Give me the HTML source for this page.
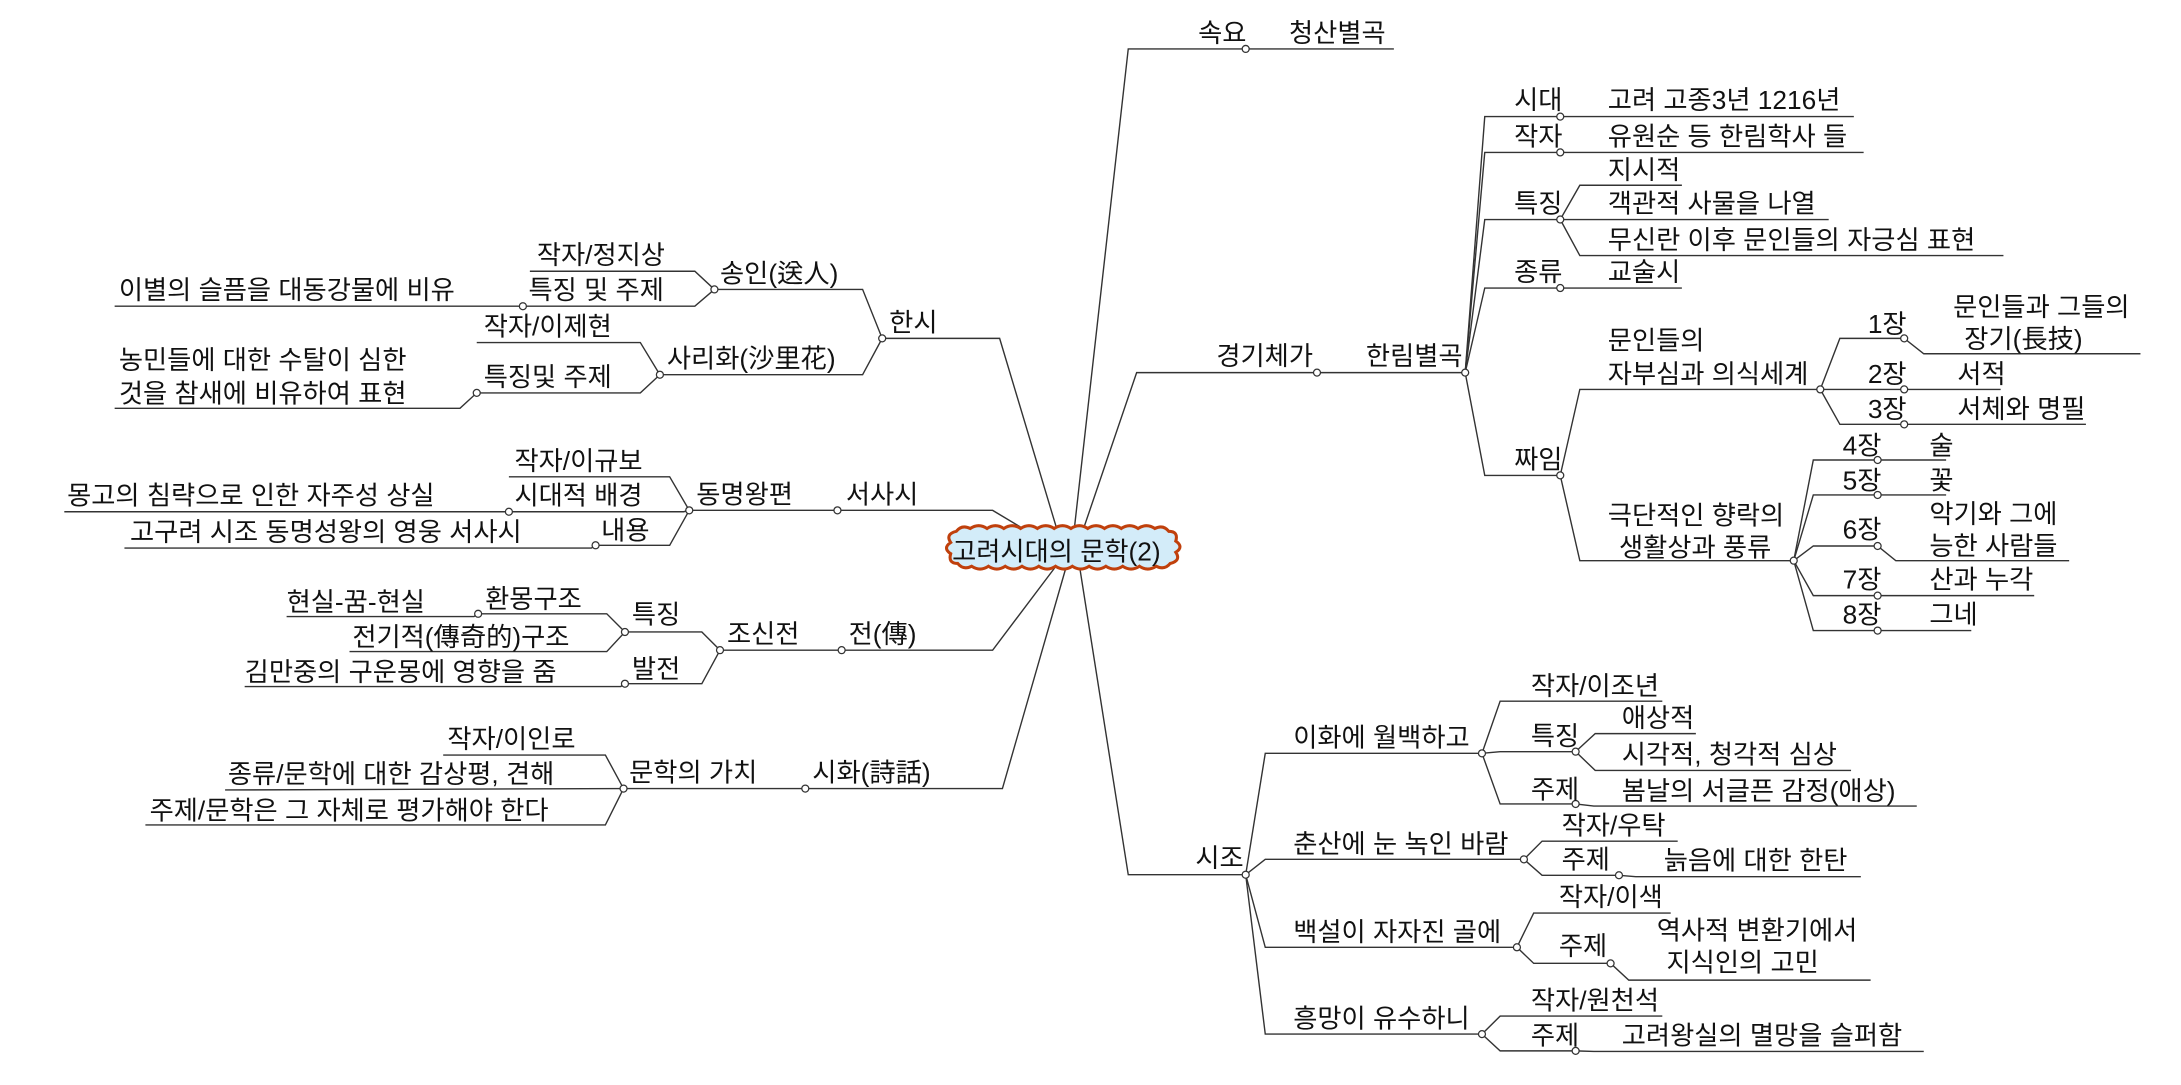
<!DOCTYPE html>
<html><head><meta charset="utf-8"><style>
html,body{margin:0;padding:0;background:#fff;}
svg{display:block;}
text{font-family:"Liberation Sans","Noto Sans CJK KR",sans-serif;font-size:18.8px;fill:#111;}
.l{stroke:#333;stroke-width:1;fill:none;}
.c{fill:#fff;stroke:#333;stroke-width:0.9;}
</style></head><body>
<svg width="2181" height="1085" viewBox="0 0 1560 776" preserveAspectRatio="none" xmlns="http://www.w3.org/2000/svg">
<g class="l">
<polyline points="768,382 807,35 891,35 997,35"/>
<polyline points="773,384 813,266.5 942,266.5 1048,266.5"/>
<polyline points="772,404 807,625.6 891,625.6"/>
<polyline points="757,382 715,242 631,242"/>
<polyline points="735,380 710,365 599,365 493,365"/>
<polyline points="756,404 710,465 602,465"/>
<polyline points="763,404 717,564 576,564"/>

<polyline points="1048,266.5 1062,83.4 1116,83.4 1326,83.4"/>
<polyline points="1048,266.5 1062,109 1116,109 1333,109"/>
<polyline points="1048,266.5 1062,157 1116,157 1308,157"/>
<polyline points="1116,157 1130,132.5 1203,132.5"/>
<polyline points="1116,157 1130,182.8 1433,182.8"/>
<polyline points="1048,266.5 1062,206 1116,206 1203,206"/>
<polyline points="1048,266.5 1062,340 1116,340"/>
<polyline points="1116,340 1130,278.5 1302,278.5"/>
<polyline points="1116,340 1130,401 1283,401"/>
<polyline points="1302,278.5 1316,242 1362,242 1376,253 1531,253"/>
<polyline points="1302,278.5 1316,278.5 1362,278.5 1431,278.5"/>
<polyline points="1302,278.5 1316,303.5 1362,303.5 1492,303.5"/>
<polyline points="1283,401 1297,329 1343,329 1392,329"/>
<polyline points="1283,401 1297,354 1343,354 1392,354"/>
<polyline points="1283,401 1297,390.5 1343,390.5 1356,401 1480,401"/>
<polyline points="1283,401 1297,426 1343,426 1455,426"/>
<polyline points="1283,401 1297,451 1343,451 1410,451"/>

<polyline points="891,625.6 905,538.8 1060,538.8"/>
<polyline points="1060,538.8 1073,501.5 1189,501.5"/>
<polyline points="1060,538.8 1073,537.6 1127,537.6"/>
<polyline points="1127,537.6 1141,524.7 1213,524.7"/>
<polyline points="1127,537.6 1141,551 1324,551"/>
<polyline points="1060,538.8 1073,575 1127,575 1140,576.5 1371,576.5"/>
<polyline points="891,625.6 905,614.6 1090,614.6"/>
<polyline points="1090,614.6 1103,601.6 1200,601.6"/>
<polyline points="1090,614.6 1103,626 1158,626 1170,627 1331,627"/>
<polyline points="891,625.6 905,677.5 1085,677.5"/>
<polyline points="1085,677.5 1097,653 1195,653"/>
<polyline points="1085,677.5 1097,689 1152,689 1165,701 1338,701"/>
<polyline points="891,625.6 905,739.6 1060,739.6"/>
<polyline points="1060,739.6 1073,726.7 1189,726.7"/>
<polyline points="1060,739.6 1073,751.6 1127,751.6 1140,752 1376,752"/>

<polyline points="631,242 617,207 511,207"/>
<polyline points="511,207 497,194 379,194"/>
<polyline points="511,207 497,219 374,219 82,219"/>
<polyline points="631,242 617,268 472,268"/>
<polyline points="472,268 458,245 341,245"/>
<polyline points="472,268 458,281 341,281 329,292 82,292"/>
<polyline points="493,365 479,341 364,341"/>
<polyline points="493,365 489,366 364,366 46,366"/>
<polyline points="493,365 479,390 426,390 423,392 89,392"/>
<polyline points="602,465 515,465 502,452 447,452"/>
<polyline points="447,452 434,439 342,439 339,441 205,441"/>
<polyline points="447,452 434,466 250,466"/>
<polyline points="515,465 502,489 447,489 444,491 175,491"/>
<polyline points="576,564 446,564"/>
<polyline points="446,564 433,540 317,540"/>
<polyline points="446,564 161,565"/>
<polyline points="446,564 433,590 104,590"/>
</g>

<g class="c">
<circle cx="891" cy="35" r="2.5"/><circle cx="942" cy="266.5" r="2.5"/><circle cx="1048" cy="266.5" r="2.5"/>
<circle cx="891" cy="625.6" r="2.5"/>
<circle cx="1116" cy="83.4" r="2.5"/><circle cx="1116" cy="109" r="2.5"/><circle cx="1116" cy="157" r="2.5"/>
<circle cx="1116" cy="206" r="2.5"/><circle cx="1116" cy="340" r="2.5"/><circle cx="1302" cy="278.5" r="2.5"/>
<circle cx="1283" cy="401" r="2.5"/><circle cx="1362" cy="242" r="2.5"/><circle cx="1362" cy="278.5" r="2.5"/>
<circle cx="1362" cy="303.5" r="2.5"/><circle cx="1343" cy="329" r="2.5"/><circle cx="1343" cy="354" r="2.5"/>
<circle cx="1343" cy="390.5" r="2.5"/><circle cx="1343" cy="426" r="2.5"/><circle cx="1343" cy="451" r="2.5"/>
<circle cx="1060" cy="538.8" r="2.5"/><circle cx="1127" cy="537.6" r="2.5"/><circle cx="1127" cy="575" r="2.5"/>
<circle cx="1090" cy="614.6" r="2.5"/><circle cx="1158" cy="626" r="2.5"/><circle cx="1085" cy="677.5" r="2.5"/>
<circle cx="1152" cy="689" r="2.5"/><circle cx="1060" cy="739.6" r="2.5"/><circle cx="1127" cy="751.6" r="2.5"/>
<circle cx="631" cy="242" r="2.5"/><circle cx="511" cy="207" r="2.5"/><circle cx="374" cy="219" r="2.5"/>
<circle cx="472" cy="268" r="2.5"/><circle cx="341" cy="281" r="2.5"/>
<circle cx="599" cy="365" r="2.5"/><circle cx="493" cy="365" r="2.5"/><circle cx="364" cy="366" r="2.5"/><circle cx="426" cy="390" r="2.5"/>
<circle cx="602" cy="465" r="2.5"/><circle cx="515" cy="465" r="2.5"/><circle cx="447" cy="452" r="2.5"/><circle cx="342" cy="439" r="2.5"/><circle cx="447" cy="489" r="2.5"/>
<circle cx="576" cy="564" r="2.5"/><circle cx="446" cy="564" r="2.5"/>
</g>

<path d="M680,388 q-4,-6 4,-8 q4,-5 10,-2 q6,-4 12,0 q6,-4 12,0 q6,-4 12,0 q6,-4 12,0 q6,-4 12,0 q6,-4 12,0 q6,-4 12,0 q6,-4 12,0 q6,-4 12,0 q6,-4 12,0 q6,-4 12,0 q6,-3 10,2 q7,0 5,7 q6,4 0,8 q4,6 -4,8 q-4,5 -10,2 q-6,4 -12,0 q-6,4 -12,0 q-6,4 -12,0 q-6,4 -12,0 q-6,4 -12,0 q-6,4 -12,0 q-6,4 -12,0 q-6,4 -12,0 q-6,4 -12,0 q-6,4 -12,0 q-6,4 -12,0 q-6,3 -10,-2 q-7,0 -5,-7 q-6,-4 0,-8 z" fill="#d3ecf9" stroke="#c0400c" stroke-width="2.2"/>
<text x="681" y="401">고려시대의 문학(2)</text>

<text x="857" y="30">속요</text><text x="922" y="30">청산별곡</text>
<text x="870" y="261">경기체가</text><text x="977" y="261">한림별곡</text>
<text x="1083" y="78">시대</text><text x="1150" y="78">고려 고종3년 1216년</text>
<text x="1083" y="104">작자</text><text x="1150" y="104">유원순 등 한림학사 들</text>
<text x="1083" y="152">특징</text><text x="1150" y="128">지시적</text>
<text x="1150" y="152">객관적 사물을 나열</text><text x="1150" y="178">무신란 이후 문인들의 자긍심 표현</text>
<text x="1083" y="201">종류</text><text x="1150" y="201">교술시</text>
<text x="1083" y="335">짜임</text>
<text x="1150" y="250">문인들의</text><text x="1150" y="274">자부심과 의식세계</text>
<text x="1336" y="238">1장</text><text x="1397" y="226">문인들과 그들의</text><text x="1405" y="249">장기(長技)</text>
<text x="1336" y="274">2장</text><text x="1400" y="274">서적</text>
<text x="1336" y="299">3장</text><text x="1400" y="299">서체와 명필</text>
<text x="1150" y="375">극단적인 향락의</text><text x="1158" y="398">생활상과 풍류</text>
<text x="1318" y="325">4장</text><text x="1380" y="325">술</text>
<text x="1318" y="350">5장</text><text x="1380" y="350">꽃</text>
<text x="1318" y="385">6장</text><text x="1380" y="374">악기와 그에</text><text x="1380" y="397">능한 사람들</text>
<text x="1318" y="421">7장</text><text x="1380" y="421">산과 누각</text>
<text x="1318" y="446">8장</text><text x="1380" y="446">그네</text>

<text x="855" y="620">시조</text>
<text x="925" y="534">이화에 월백하고</text><text x="1095" y="497">작자/이조년</text>
<text x="1095" y="533">특징</text><text x="1160" y="520">애상적</text><text x="1160" y="546">시각적, 청각적 심상</text>
<text x="1095" y="571">주제</text><text x="1160" y="572">봄날의 서글픈 감정(애상)</text>
<text x="925" y="610">춘산에 눈 녹인 바람</text><text x="1117" y="597">작자/우탁</text>
<text x="1117" y="621">주제</text><text x="1190" y="622">늙음에 대한 한탄</text>
<text x="925" y="673">백설이 자자진 골에</text><text x="1115" y="648">작자/이색</text>
<text x="1115" y="683">주제</text><text x="1185" y="672">역사적 변환기에서</text><text x="1192" y="695">지식인의 고민</text>
<text x="925" y="735">흥망이 유수하니</text><text x="1095" y="722">작자/원천석</text>
<text x="1095" y="747">주제</text><text x="1160" y="747">고려왕실의 멸망을 슬퍼함</text>

<text x="636" y="237">한시</text>
<text x="515" y="202">송인(送人)</text><text x="384" y="189">작자/정지상</text>
<text x="378" y="214">특징 및 주제</text><text x="85" y="214">이별의 슬픔을 대동강물에 비유</text>
<text x="477" y="263">사리화(沙里花)</text><text x="346" y="240">작자/이제현</text>
<text x="346" y="276">특징및 주제</text>
<text x="85" y="264">농민들에 대한 수탈이 심한</text><text x="85" y="288">것을 참새에 비유하여 표현</text>
<text x="605" y="360">서사시</text><text x="498" y="360">동명왕편</text>
<text x="368" y="336">작자/이규보</text><text x="368" y="361">시대적 배경</text>
<text x="48" y="361">몽고의 침략으로 인한 자주성 상실</text>
<text x="430" y="386">내용</text><text x="93" y="387">고구려 시조 동명성왕의 영웅 서사시</text>
<text x="607" y="460">전(傳)</text><text x="520" y="460">조신전</text>
<text x="452" y="446">특징</text><text x="347" y="435">환몽구조</text><text x="205" y="437">현실-꿈-현실</text>
<text x="252" y="462">전기적(傳奇的)구조</text>
<text x="452" y="485">발전</text><text x="175" y="487">김만중의 구운몽에 영향을 줌</text>
<text x="581" y="559">시화(詩話)</text><text x="450" y="559">문학의 가치</text>
<text x="320" y="535">작자/이인로</text><text x="163" y="560">종류/문학에 대한 감상평, 견해</text>
<text x="107" y="586">주제/문학은 그 자체로 평가해야 한다</text>
</svg>
</body></html>
